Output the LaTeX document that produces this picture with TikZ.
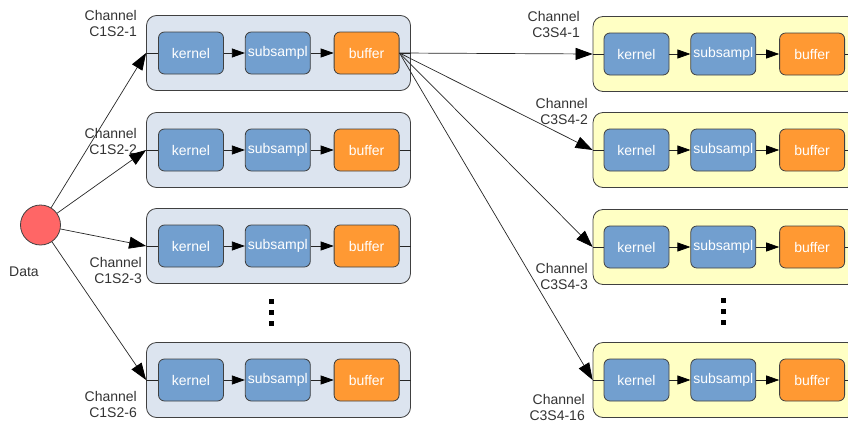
\documentclass[tikz,border=0pt]{standalone}
\usepackage{fontspec}
\setmainfont{Liberation Sans}
\usetikzlibrary{positioning,arrows.meta}
\definecolor{chanblue}{HTML}{DCE4EF}
\definecolor{chanyellow}{HTML}{FFFFC4}
\definecolor{procblue}{HTML}{729FCF}
\definecolor{buforange}{HTML}{FF9933}
\definecolor{datared}{HTML}{FF6666}
\definecolor{txtgray}{HTML}{333333}
\tikzset{
   chan/.style={draw=black!75, line width=0.8pt, rounded corners=10pt,
      minimum width=264pt, minimum height=75pt},
   proc/.style={draw=black!75, line width=0.8pt, rounded corners=6pt,
      fill=procblue, text=white, minimum width=65pt, minimum height=42pt,
      inner sep=0pt},
   buf/.style={proc, fill=buforange},
   lab/.style={anchor=east, align=right, text=txtgray, inner sep=0pt},
   wire/.style={draw=black!85, line width=0.7pt},
   link/.style={wire, -{Triangle[length=13pt,width=9pt,color=black]}},
   feed/.style={wire, -{Triangle[length=17pt,width=12pt,color=black]}}
}
\begin{document}
\begin{tikzpicture}[x=1pt, y=-1pt, font=\fontsize{14}{16}\selectfont]
   \useasboundingbox (0,0) rectangle (848,423);
   % source
   \node[draw=black!75, line width=0.8pt, circle, fill=datared,
      minimum size=40pt, inner sep=0pt] (data) at (40.5,225) {};
   \node[text=txtgray, inner sep=0pt] (datalab) at (24,272) {Data};
   % first layer channels
   \begin{scope}
      \def \Rows {
         1/53/137/23/C1S2-1,
         2/150/137/141/C1S2-2,
         3/246/142/270/C1S2-3,
         4/380/137/404/C1S2-6}
      \foreach \u / \y / \lx / \ly / \n in \Rows {
         \node[chan, fill=chanblue] (c\u) at (278.5,\y) {};
         \node[proc, anchor=west] (k\u) at ([xshift=12pt]c\u.west) {kernel};
         \node[proc, right=21pt of k\u] (s\u) {subsampl};
         \node[buf, right=23pt of s\u] (b\u) {buffer};
         \node[lab] (l\u) at (\lx,\ly) {Channel\\\n};
         \path[wire] (c\u.west) -- (k\u);
         \path[link] (k\u) -- (s\u);
         \path[link] (s\u) -- (b\u);
         \path[wire] (b\u) -- (c\u.east);
         \path[feed] (data) -- (c\u.west);
      }
      \foreach \d in {0,11,22} {
         \fill (268.5,298.5+\d) rectangle ++(5,5);
      }
   \end{scope}
   % second layer channels
   \begin{scope}
      \def \Rows {
         1/54/580/24.5/C3S4-1,
         2/150/588/111/C3S4-2,
         3/247/588/276/C3S4-3,
         4/380/585/407/C3S4-16}
      \foreach \u / \y / \lx / \ly / \n in \Rows {
         \node[chan, fill=chanyellow] (r\u) at (725,\y) {};
         \node[proc, anchor=west] (rk\u) at ([xshift=11pt]r\u.west) {kernel};
         \node[proc, right=21pt of rk\u] (rs\u) {subsampl};
         \node[buf, right=23pt of rs\u] (rb\u) {buffer};
         \node[lab] (rl\u) at (\lx,\ly) {Channel\\\n};
         \path[wire] (r\u.west) -- (rk\u);
         \path[link] (rk\u) -- (rs\u);
         \path[link] (rs\u) -- (rb\u);
         \path[wire] (rb\u) -- (r\u.east);
         \path[feed] (b1.east) -- (r\u.west);
      }
      \foreach \d in {0,11,22} {
         \fill (720.5,297.5+\d) rectangle ++(5,5);
      }
   \end{scope}
\end{tikzpicture}
\end{document}
